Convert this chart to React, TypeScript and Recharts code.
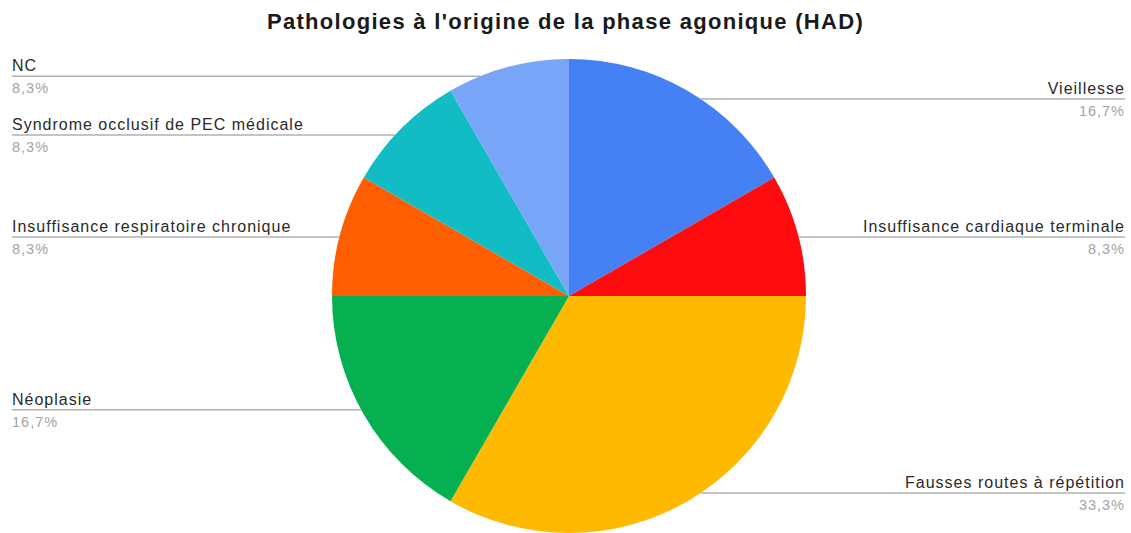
import { PieChart, Pie, Cell } from 'recharts';

const labels = [
  'Vieillesse',
  'Insuffisance cardiaque terminale',
  'Fausses routes à répétition',
  'Néoplasie',
  'Insuffisance respiratoire chronique',
  'Syndrome occlusif de PEC médicale',
  'NC',
];
const counts = [2, 1, 4, 2, 1, 1, 1];
const colors = ['#4680F5', '#FF0A0F', '#FFB900', '#06B050', '#FF5E00', '#12BCC5', '#78A5F7'];

const data = labels.map((name, i) => ({ name, value: counts[i] }));

const RAD = Math.PI / 180;
const FONT = '"Liberation Sans", Arial, sans-serif';

// Sheets-style label: name above a horizontal leader line, percentage below
// eslint-disable-next-line @typescript-eslint/no-explicit-any
function renderLabel(props: any) {
  const { cx, cy, midAngle, outerRadius, name, percent } = props;
  const right = Math.cos(midAngle * RAD) >= 0;
  const y = cy - outerRadius * 0.96 * Math.sin(midAngle * RAD);
  const dy = y - cy;
  const edge = Math.sqrt(Math.max(outerRadius * outerRadius - dy * dy, 0));
  const x0 = right ? cx + edge : cx - edge;
  const x1 = right ? 1125 : 12;
  const anchor = right ? 'end' : 'start';
  const pct = (percent * 100).toFixed(1).replace('.', ',') + '%';
  return (
    <g>
      <line x1={x0} y1={y} x2={x1} y2={y} stroke="#b0b0b0" strokeWidth={1.5} />
      <text x={x1} y={y - 5} textAnchor={anchor} fontSize={16} letterSpacing={1} fill="#2a2a2a" fontFamily={FONT}>
        {name}
      </text>
      <text x={x1} y={y + 17} textAnchor={anchor} fontSize={14.5} letterSpacing={1} fill="#a3a3a3" fontFamily={FONT}>
        {pct}
      </text>
    </g>
  );
}

export default function App() {
  return (
    <div style={{ position: 'absolute', left: 0, top: 0, width: 1131, height: 533, background: '#fff' }}>
      <div
        style={{
          position: 'absolute',
          left: 0,
          top: 9,
          width: 1131,
          textAlign: 'center',
          fontFamily: FONT,
          fontWeight: 700,
          fontSize: 22,
          letterSpacing: 1.3,
          color: '#1a1a1a',
        }}
      >
        Pathologies à l'origine de la phase agonique (HAD)
      </div>
      <PieChart width={1131} height={533} style={{ position: 'absolute', left: 0, top: 0 }}>
        <Pie
          data={data}
          dataKey="value"
          nameKey="name"
          cx={564}
          cy={291}
          outerRadius={237}
          startAngle={90}
          endAngle={-270}
          stroke="none"
          label={renderLabel}
          labelLine={false}
          isAnimationActive={false}
        >
          {data.map((d, i) => (
            <Cell key={d.name} fill={colors[i]} />
          ))}
        </Pie>
      </PieChart>
    </div>
  );
}
